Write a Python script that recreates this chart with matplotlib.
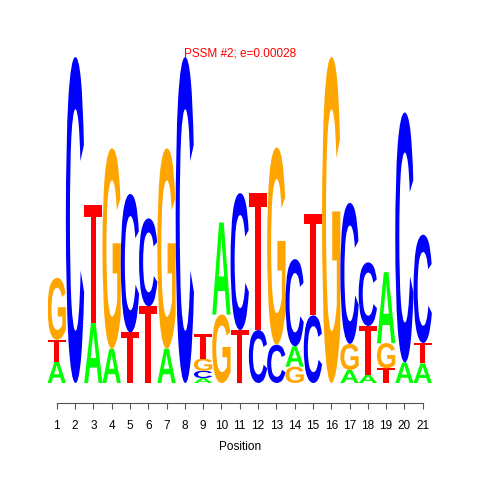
import matplotlib
matplotlib.use('Agg')
import matplotlib.pyplot as plt
from matplotlib.textpath import TextPath
from matplotlib.patches import PathPatch
from matplotlib.path import Path
from matplotlib.font_manager import FontProperties
from matplotlib.transforms import Affine2D

# information content (bits) per letter at each position
positions = list(range(1, 22))
bits_A = [0.13, 0, 0.37, 0.21, 0, 0, 0.21, 0, 0.03, 0.565, 0, 0, 0, 0.125, 0, 0, 0.08, 0.05, 0.435, 0.125, 0.12]
bits_C = [0, 2.0, 0, 0, 0.85, 0.54, 0, 2.0, 0.045, 0, 0.84, 0.325, 0.235, 0.535, 0.415, 0, 0.865, 0.39, 0, 1.535, 0.665]
bits_G = [0.38, 0, 0, 1.23, 0, 0, 1.23, 0, 0.075, 0.42, 0, 0, 1.21, 0.10, 0, 2.0, 0.16, 0, 0.155, 0, 0]
bits_T = [0.135, 0, 0.72, 0, 0.31, 0.47, 0, 0, 0.15, 0, 0.325, 0.84, 0, 0, 0.625, 0, 0, 0.30, 0.09, 0, 0.125]

title = "PSSM #2; e=0.00028"
colors = {'A': '#00ff00', 'C': '#0000ff', 'G': '#ffa500', 'T': '#ff0000'}

glyph_font = FontProperties(family='Liberation Sans', weight='bold')

# T is drawn as a simple polygon (thin bar, wide stem) like the R logo
t_shape = Path([(0, 1), (1, 1), (1, 0.9), (0.65, 0.9), (0.65, 0),
                (0.35, 0), (0.35, 0.9), (0, 0.9), (0, 1)], closed=True)


def letter_patch(letter, x, y, w, h, color):
    if letter == 'T':
        path = t_shape
    else:
        path = TextPath((0, 0), letter, size=1, prop=glyph_font)
    ext = path.get_extents()
    tr = (Affine2D().translate(-ext.x0, -ext.y0)
          .scale(w / ext.width, h / ext.height)
          .translate(x - w / 2, y))
    return PathPatch(tr.transform_path(path), facecolor=color,
                     edgecolor='none', lw=0)


plt.rcParams['font.family'] = ['Liberation Sans', 'DejaVu Sans']

fig = plt.figure(figsize=(4.8, 4.8), dpi=100)
ax = fig.add_axes([0.0991, 0.2021, 0.8006, 0.679])

for i, pos in enumerate(positions):
    stack = [('A', bits_A[i]), ('C', bits_C[i]), ('G', bits_G[i]), ('T', bits_T[i])]
    stack.sort(key=lambda s: s[1])
    y = 0
    for letter, h in stack:
        if h <= 0:
            continue
        ax.add_patch(letter_patch(letter, pos, y, 1.0, h, colors[letter]))
        y += h

ax.set_xlim(0.5, 21.5)
ax.set_ylim(0, 2)
for side in ['top', 'right', 'left']:
    ax.spines[side].set_visible(False)
ax.spines['bottom'].set_position(('outward', 14.4))
ax.spines['bottom'].set_bounds(1, 21)
ax.spines['bottom'].set_color('#555555')
ax.set_yticks([])
ax.set_xticks(positions)
ax.set_xticklabels([str(p) for p in positions], fontsize=8.5)
ax.tick_params(axis='x', length=4.5, width=0.8, color='#555555', pad=8)
ax.set_xlabel('Position', fontsize=8.5, labelpad=6.5)

fig.text(0.5, 1 - 56.7 / 480, title, color='red', fontsize=8.5,
         ha='center', va='baseline')

fig.savefig('out.png', dpi=100)
